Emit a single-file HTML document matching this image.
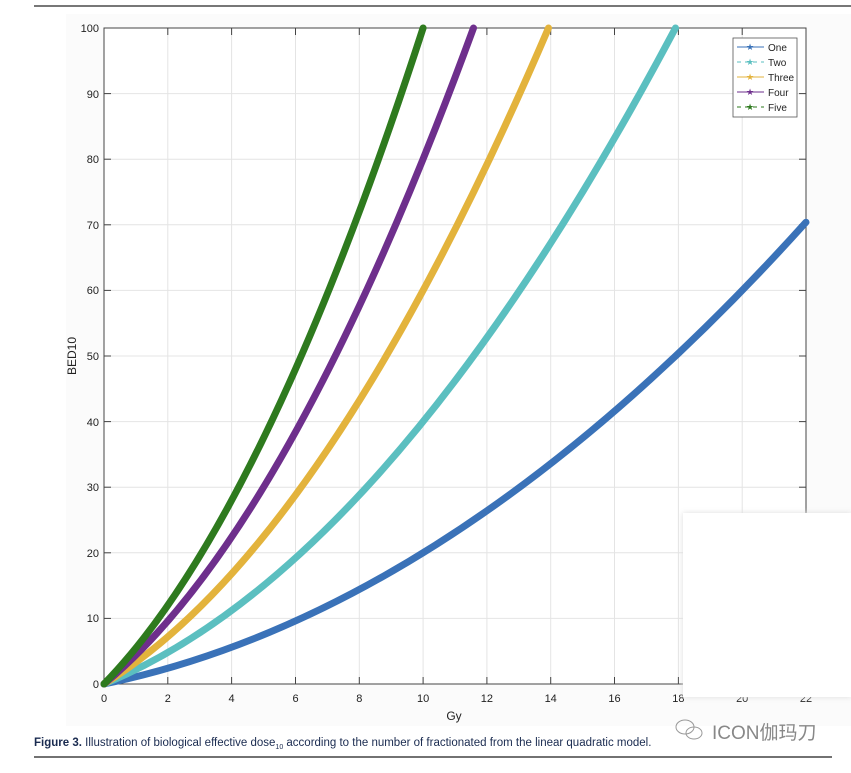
<!DOCTYPE html>
<html><head><meta charset="utf-8"><style>
body{margin:0;background:#fff;width:851px;height:768px;overflow:hidden;font-family:"Liberation Sans",sans-serif}
</style></head><body>
<svg width="851" height="768" xmlns="http://www.w3.org/2000/svg" font-family="Liberation Sans, sans-serif">
<rect x="0" y="0" width="851" height="768" fill="#fff"/>
<rect x="66" y="14" width="785" height="712" fill="#fbfbfb"/>
<line x1="34" y1="6" x2="851" y2="6" stroke="#777" stroke-width="2"/>
<rect x="104" y="28" width="702" height="656" fill="#fff"/>
<g stroke="#e4e4e4" stroke-width="1">
<line x1="167.8" y1="28" x2="167.8" y2="684"/><line x1="231.6" y1="28" x2="231.6" y2="684"/><line x1="295.5" y1="28" x2="295.5" y2="684"/><line x1="359.3" y1="28" x2="359.3" y2="684"/><line x1="423.1" y1="28" x2="423.1" y2="684"/><line x1="486.9" y1="28" x2="486.9" y2="684"/><line x1="550.7" y1="28" x2="550.7" y2="684"/><line x1="614.5" y1="28" x2="614.5" y2="684"/><line x1="678.4" y1="28" x2="678.4" y2="684"/><line x1="742.2" y1="28" x2="742.2" y2="684"/>
<line x1="104" y1="618.4" x2="806" y2="618.4"/><line x1="104" y1="552.8" x2="806" y2="552.8"/><line x1="104" y1="487.2" x2="806" y2="487.2"/><line x1="104" y1="421.6" x2="806" y2="421.6"/><line x1="104" y1="356" x2="806" y2="356"/><line x1="104" y1="290.4" x2="806" y2="290.4"/><line x1="104" y1="224.8" x2="806" y2="224.8"/><line x1="104" y1="159.2" x2="806" y2="159.2"/><line x1="104" y1="93.6" x2="806" y2="93.6"/>
</g>
<rect x="104" y="28" width="702" height="656" fill="none" stroke="#444" stroke-width="1"/>
<g stroke="#444" stroke-width="1">
<line x1="167.8" y1="684" x2="167.8" y2="677"/><line x1="231.6" y1="684" x2="231.6" y2="677"/><line x1="295.5" y1="684" x2="295.5" y2="677"/><line x1="359.3" y1="684" x2="359.3" y2="677"/><line x1="423.1" y1="684" x2="423.1" y2="677"/><line x1="486.9" y1="684" x2="486.9" y2="677"/><line x1="550.7" y1="684" x2="550.7" y2="677"/><line x1="614.5" y1="684" x2="614.5" y2="677"/><line x1="678.4" y1="684" x2="678.4" y2="677"/><line x1="742.2" y1="684" x2="742.2" y2="677"/>
<line x1="167.8" y1="28" x2="167.8" y2="35"/><line x1="231.6" y1="28" x2="231.6" y2="35"/><line x1="295.5" y1="28" x2="295.5" y2="35"/><line x1="359.3" y1="28" x2="359.3" y2="35"/><line x1="423.1" y1="28" x2="423.1" y2="35"/><line x1="486.9" y1="28" x2="486.9" y2="35"/><line x1="550.7" y1="28" x2="550.7" y2="35"/><line x1="614.5" y1="28" x2="614.5" y2="35"/><line x1="678.4" y1="28" x2="678.4" y2="35"/><line x1="742.2" y1="28" x2="742.2" y2="35"/>
<line x1="104" y1="618.4" x2="111" y2="618.4"/><line x1="104" y1="552.8" x2="111" y2="552.8"/><line x1="104" y1="487.2" x2="111" y2="487.2"/><line x1="104" y1="421.6" x2="111" y2="421.6"/><line x1="104" y1="356" x2="111" y2="356"/><line x1="104" y1="290.4" x2="111" y2="290.4"/><line x1="104" y1="224.8" x2="111" y2="224.8"/><line x1="104" y1="159.2" x2="111" y2="159.2"/><line x1="104" y1="93.6" x2="111" y2="93.6"/>
<line x1="806" y1="618.4" x2="799" y2="618.4"/><line x1="806" y1="552.8" x2="799" y2="552.8"/><line x1="806" y1="487.2" x2="799" y2="487.2"/><line x1="806" y1="421.6" x2="799" y2="421.6"/><line x1="806" y1="356" x2="799" y2="356"/><line x1="806" y1="290.4" x2="799" y2="290.4"/><line x1="806" y1="224.8" x2="799" y2="224.8"/><line x1="806" y1="159.2" x2="799" y2="159.2"/><line x1="806" y1="93.6" x2="799" y2="93.6"/>
</g>
<g fill="none" stroke-width="7" stroke-linecap="round">
<path d="M104 684 Q455 611.8 806 222.2" stroke="#3a72b8"/>
<path d="M104 684 Q389.8 566.5 675.5 28" stroke="#5bbfc0"/>
<path d="M104 684 Q326.3 546.9 548.5 28" stroke="#e3b33c"/>
<path d="M104 684 Q288.8 532.1 473.5 28" stroke="#6e2f8c"/>
<path d="M104 684 Q263.6 520 423.1 28" stroke="#2e7a1e"/>
</g>
<g font-size="11" fill="#222" text-anchor="middle">
<text x="104" y="702">0</text><text x="167.8" y="702">2</text><text x="231.6" y="702">4</text><text x="295.5" y="702">6</text><text x="359.3" y="702">8</text><text x="423.1" y="702">10</text><text x="486.9" y="702">12</text><text x="550.7" y="702">14</text><text x="614.5" y="702">16</text><text x="678.4" y="702">18</text><text x="742.2" y="702">20</text><text x="806" y="702">22</text>
<text x="454" y="720" font-size="12">Gy</text>
</g>
<g font-size="11" fill="#222" text-anchor="end">
<text x="99" y="688">0</text><text x="99" y="622">10</text><text x="99" y="557">20</text><text x="99" y="491">30</text><text x="99" y="426">40</text><text x="99" y="360">50</text><text x="99" y="294">60</text><text x="99" y="229">70</text><text x="99" y="163">80</text><text x="99" y="98">90</text><text x="99" y="32">100</text>
</g>
<text transform="translate(76 356) rotate(-90)" font-size="12" text-anchor="middle" fill="#222">BED10</text>
<rect x="733" y="38" width="64" height="79" fill="#fff" stroke="#555" stroke-width="0.8"/>
<g font-size="10" fill="#222">
<line x1="737" y1="47" x2="764" y2="47" stroke="#3a72b8"/><text x="750" y="50" font-size="9" fill="#3a72b8" text-anchor="middle">★</text><text x="768" y="51">One</text>
<line x1="737" y1="62" x2="764" y2="62" stroke="#5bbfc0" stroke-dasharray="4 4"/><text x="750" y="65" font-size="9" fill="#5bbfc0" text-anchor="middle">★</text><text x="768" y="66">Two</text>
<line x1="737" y1="77" x2="764" y2="77" stroke="#e3b33c"/><text x="750" y="80" font-size="9" fill="#e3b33c" text-anchor="middle">★</text><text x="768" y="81">Three</text>
<line x1="737" y1="92" x2="764" y2="92" stroke="#6e2f8c"/><text x="750" y="95" font-size="9" fill="#6e2f8c" text-anchor="middle">★</text><text x="768" y="96">Four</text>
<line x1="737" y1="107" x2="764" y2="107" stroke="#2e7a1e" stroke-dasharray="4 4"/><text x="750" y="110" font-size="9" fill="#2e7a1e" text-anchor="middle">★</text><text x="768" y="111">Five</text>
</g>
<rect x="683" y="513" width="168" height="184" fill="#fff" style="filter:drop-shadow(0 0 3px #ddd)"/>
<text x="34" y="746" font-size="11.5" fill="#1a2b50"><tspan font-weight="bold">Figure 3.</tspan>  Illustration of biological effective dose<tspan font-size="7" dy="3">10</tspan><tspan dy="-3"> according to the number of fractionated from the linear quadratic model.</tspan></text>
<line x1="34" y1="757" x2="832" y2="757" stroke="#444" stroke-width="1.5"/>
<g fill="none" stroke="#999" stroke-width="1"><ellipse cx="685" cy="727" rx="9" ry="7"/><ellipse cx="694" cy="733" rx="8" ry="6"/></g>
<text x="712" y="739" font-size="19" fill="#888" font-family="Liberation Sans, Noto Sans CJK SC, sans-serif">ICON伽玛刀</text>
</svg>
</body></html>
